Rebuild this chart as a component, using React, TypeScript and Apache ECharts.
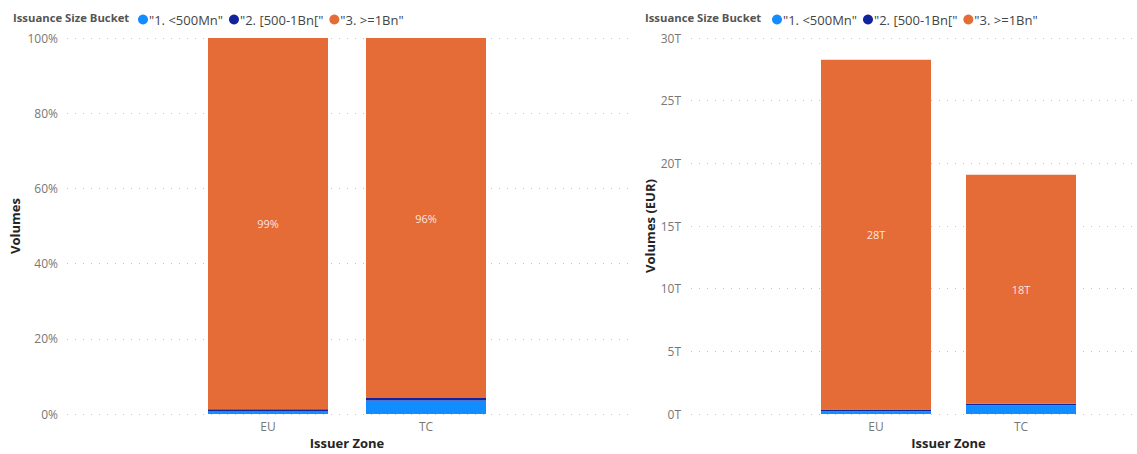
import React, { useEffect, useRef } from "react";
import * as echarts from "echarts";

const categories = ["EU", "TC"];
const bucketNames = ['"1. <500Mn"', '"2. [500-1Bn["', '"3. >=1Bn"'];
// Volumes in trillions of EUR, per category (EU, TC)
const smallVolT = [0.22, 0.69];
const midVolT = [0.14, 0.12];
const largeVolT = [27.9, 18.28];
const bucketColors = ["#118DFF", "#12239E", "#E66C37"];

const FONT = "'Segoe UI', 'Open Sans', 'Noto Sans', sans-serif";

export default function App() {
  const ref = useRef<HTMLDivElement>(null);
  useEffect(() => {
    if (!ref.current) return;
    const chart = echarts.init(ref.current, null, { renderer: "svg" });
    const totals = categories.map((_, i) => smallVolT[i] + midVolT[i] + largeVolT[i]);
    const share = (arr: number[]) => arr.map((v, i) => v / totals[i]);
    const volSets = [smallVolT, midVolT, largeVolT];

    const splitLine = {
      show: true,
      lineStyle: { color: "#c8c6c4", width: 1, type: [1, 7] as any },
    };
    const tickLabel = { color: "#777", fontSize: 12, fontFamily: FONT };
    const axisTitle = { color: "#252423", fontSize: 13, fontWeight: "bold" as const, fontFamily: FONT };

    const legendCommon = {
      data: bucketNames,
      icon: "circle",
      itemWidth: 10,
      itemHeight: 10,
      itemGap: 6,
      top: 8,
      textStyle: { color: "#444", fontSize: 13, fontFamily: FONT, padding: [0, 0, 0, -4] },
      selectedMode: false,
    };

    const series: any[] = [];
    volSets.forEach((arr, k) => {
      series.push({
        type: "bar",
        name: bucketNames[k],
        stack: "L",
        xAxisIndex: 1,
        yAxisIndex: 1,
        barWidth: 120,
        itemStyle: { color: bucketColors[k] },
        data: share(arr),
        label: {
          show: k === 2,
          position: "inside",
          color: "rgba(255,255,255,0.85)",
          fontSize: 11,
          fontFamily: FONT,
          formatter: (p: any) => Math.round(p.value * 100) + "%",
        },
      });
    });
    volSets.forEach((arr, k) => {
      series.push({
        type: "bar",
        name: bucketNames[k],
        stack: "R",
        xAxisIndex: 3,
        yAxisIndex: 3,
        barWidth: 110,
        itemStyle: { color: bucketColors[k] },
        data: arr,
        label: {
          show: k === 2,
          position: "inside",
          color: "rgba(255,255,255,0.85)",
          fontSize: 11,
          fontFamily: FONT,
          formatter: (p: any) => Math.round(p.value) + "T",
        },
      });
    });

    const gridBase = { top: 38, height: 376, outerBoundsMode: "none", containLabel: false };

    chart.setOption({
      animation: false,
      backgroundColor: "#fff",
      title: [
        { text: "Issuance Size Bucket", left: 8, top: 7, textStyle: { color: "#555", fontSize: 11.3, fontWeight: "bold", fontFamily: FONT } },
        { text: "Issuance Size Bucket", left: 640, top: 7, textStyle: { color: "#555", fontSize: 11.3, fontWeight: "bold", fontFamily: FONT } },
      ],
      legend: [
        { ...legendCommon, left: 133 },
        { ...legendCommon, left: 767 },
      ],
      grid: [
        { ...gridBase, left: 67, width: 565 },
        { ...gridBase, left: 189, width: 316 },
        { ...gridBase, left: 691, width: 446 },
        { ...gridBase, left: 803.5, width: 290 },
      ],
      xAxis: [
        { gridIndex: 0, type: "value", min: 0, max: 1, show: false },
        {
          gridIndex: 1, type: "category", data: categories,
          axisLine: { show: false }, axisTick: { show: false },
          axisLabel: { ...tickLabel, margin: 6 },
          name: "Issuer Zone", nameLocation: "middle", nameGap: 20, nameTextStyle: axisTitle,
        },
        { gridIndex: 2, type: "value", min: 0, max: 1, show: false },
        {
          gridIndex: 3, type: "category", data: categories,
          axisLine: { show: false }, axisTick: { show: false },
          axisLabel: { ...tickLabel, margin: 6 },
          name: "Issuer Zone", nameLocation: "middle", nameGap: 20, nameTextStyle: axisTitle,
        },
      ],
      yAxis: [
        {
          gridIndex: 0, type: "value", min: 0, max: 1, interval: 0.2,
          axisLine: { show: false }, axisTick: { show: false },
          axisLabel: { ...tickLabel, margin: 9, formatter: (v: number) => Math.round(v * 100) + "%" },
          splitLine,
          name: "Volumes", nameLocation: "middle", nameGap: 46, nameRotate: 90, nameTextStyle: axisTitle,
        },
        { gridIndex: 1, type: "value", min: 0, max: 1, show: false, splitLine: { show: false } },
        {
          gridIndex: 2, type: "value", min: 0, max: 30, interval: 5,
          axisLine: { show: false }, axisTick: { show: false },
          axisLabel: { ...tickLabel, margin: 10, formatter: (v: number) => v + "T" },
          splitLine,
          name: "Volumes (EUR)", nameLocation: "middle", nameGap: 33, nameRotate: 90, nameTextStyle: axisTitle,
        },
        { gridIndex: 3, type: "value", min: 0, max: 30, show: false, splitLine: { show: false } },
      ],
      series,
    });
    return () => chart.dispose();
  }, []);
  return (
    <div
      ref={ref}
      style={{ position: "absolute", left: 0, top: 0, width: 1137, height: 454, background: "#fff" }}
    />
  );
}
